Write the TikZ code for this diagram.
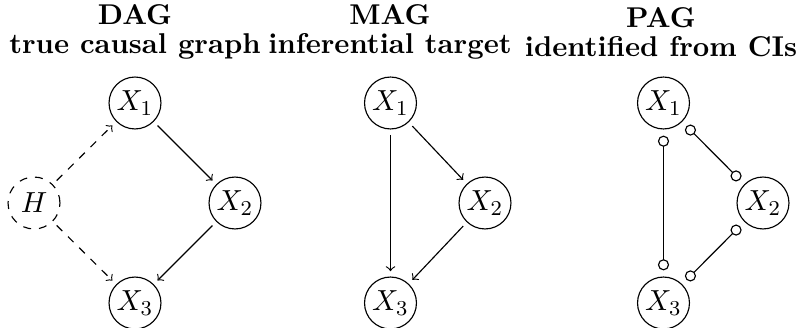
\documentclass[tikz,border=0pt]{standalone}
\usetikzlibrary{arrows.meta}
\begin{document}
\begin{tikzpicture}[x=0.3774pt,y=-0.3774pt,line width=0.43pt,
  var/.style={circle,draw,minimum size=19.6pt,inner sep=0.5pt,font=\fontsize{10.8}{13}\selectfont},
  latent/.style={var,dashed},
  title/.style={align=center,font=\bfseries\fontsize{10.8}{11}\selectfont},
  edge/.style={-to,shorten <=2pt,shorten >=2pt},
  ledge/.style={edge,dashed},
  oo/.style={{Circle[open,length=4.2pt]}-{Circle[open,length=4.2pt]},shorten <=2.3pt,shorten >=2.3pt}]
\useasboundingbox (0,0) rectangle (797,328);
% titles
\node[title] (tDAG) at (135,32) {DAG\\true causal graph};
\node[title] (tMAG) at (390,32) {MAG\\inferential target};
\node[title] (tPAG) at (661,32) {PAG\\identified from CIs};
% DAG
\node[var] (d1) at (135,103) {$X_1$};
\node[var] (d2) at (235,203) {$X_2$};
\node[var] (d3) at (135,303) {$X_3$};
\node[latent] (dh) at (34,203) {$H$};
\draw[edge] (d1) -- (d2);
\draw[edge] (d2) -- (d3);
\draw[ledge] (dh) -- (d1);
\draw[ledge] (dh) -- (d3);
% MAG
\node[var] (m1) at (390.5,103) {$X_1$};
\node[var] (m2) at (485,203) {$X_2$};
\node[var] (m3) at (390.5,303) {$X_3$};
\draw[edge] (m1) -- (m2);
\draw[edge] (m2) -- (m3);
\draw[edge] (m1) -- (m3);
% PAG
\node[var] (p1) at (663.5,103) {$X_1$};
\node[var] (p2) at (763,203) {$X_2$};
\node[var] (p3) at (663.5,303) {$X_3$};
\draw[oo] (p1) -- (p2);
\draw[oo] (p2) -- (p3);
\draw[oo] (p1) -- (p3);
\end{tikzpicture}
\end{document}
